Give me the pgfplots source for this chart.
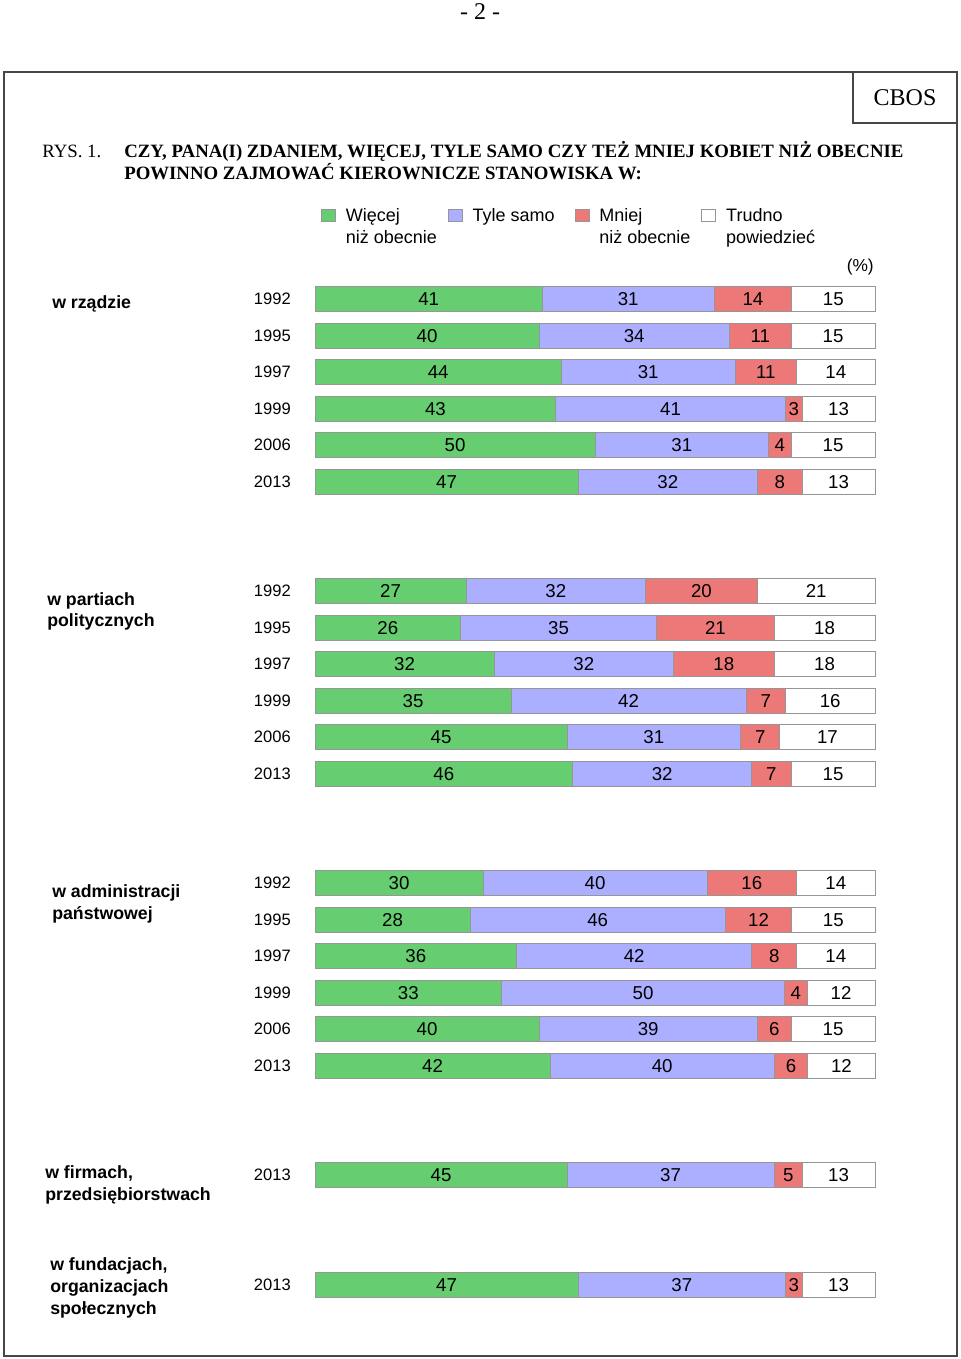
\documentclass[border=0pt]{standalone}
\usepackage{fontspec}
\setmainfont{Liberation Sans}
\newfontfamily\seriffont{Liberation Serif}
\usepackage{pgfplots}
\usepackage{pgfplotstable}
\pgfplotsset{compat=1.18}
\definecolor{cgreen}{RGB}{102,206,112}
\definecolor{cblue}{RGB}{172,174,255}
\definecolor{cred}{RGB}{236,120,120}
\definecolor{cborder}{RGB}{150,150,150}
\definecolor{cframe}{RGB}{70,70,70}

% a b c d: printed percentages; wa wb wc wd: drawn bar widths (bars scaled to 100)
\pgfplotstableread{
y a b c d wa wb wc wd
-299 41 31 14 15 40.59 30.69 13.86 14.85
-336 40 34 11 15 40 34 11 15
-372 44 31 11 14 44 31 11 14
-409 43 41 3 13 43 41 3 13
-445 50 31 4 15 50 31 4 15
-482 47 32 8 13 47 32 8 13
-591 27 32 20 21 27 32 20 21
-628 26 35 21 18 26 35 21 18
-664 32 32 18 18 32 32 18 18
-701 35 42 7 16 35 42 7 16
-737 45 31 7 17 45 31 7 17
-774 46 32 7 15 46 32 7 15
-883 30 40 16 14 30 40 16 14
-920 28 46 12 15 27.72 45.54 11.88 14.85
-956 36 42 8 14 36 42 8 14
-993 33 50 4 12 33.33 50.51 4.04 12.12
-1029 40 39 6 15 40 39 6 15
-1066 42 40 6 12 42 40 6 12
-1175 45 37 5 13 45 37 5 13
-1285 47 37 3 13 47 37 3 13
}\datatable

\newcommand\LE[2]{\vtop{\hbox to 76.5pt{#1\hfil}\hbox{#2}}}

\begin{document}
\begin{tikzpicture}
\begin{scope}[x=0.75pt,y=-0.75pt]
\path[use as bounding box] (0,0) rectangle (960,1359);
\draw[line width=1.4pt, cframe] (4,72) rectangle (957,1356);
\draw[line width=1.1pt, cframe] (853,72) -- (853,123) -- (957,123);
\node[font=\seriffont\fontsize{18}{20}\selectfont] at (905,98) {CBOS};
\node[anchor=base, font=\seriffont\fontsize{18}{20}\selectfont] at (480,20) {- 2 -};
\node[anchor=base west, inner sep=0pt, font=\seriffont\fontsize{14.1}{17}\selectfont] at (42,157) {RYS. 1.};
\node[anchor=base west, inner sep=0pt, font=\seriffont\bfseries\fontsize{14.1}{17}\selectfont] at (124,157) {CZY, PANA(I) ZDANIEM, WIĘCEJ, TYLE SAMO CZY TEŻ MNIEJ KOBIET NIŻ OBECNIE};
\node[anchor=base west, inner sep=0pt, font=\seriffont\bfseries\fontsize{14.1}{17}\selectfont] at (124,180) {POWINNO ZAJMOWAĆ KIEROWNICZE STANOWISKA W:};
\node[anchor=base east, inner sep=0pt, font=\fontsize{13}{15}\selectfont] at (874,271) {(\%)};
\begin{scope}[every node/.style={anchor=base west, inner sep=0pt, font=\bfseries\fontsize{13.3}{16}\selectfont}]
\node at (52,308) {w rządzie};
\node at (47,605) {w partiach};
\node at (47,626) {politycznych};
\node at (52,897) {w administracji};
\node at (52,919) {państwowej};
\node at (45,1178) {w firmach,};
\node at (45,1200) {przedsiębiorstwach};
\node at (50,1270) {w fundacjach,};
\node at (50,1292) {organizacjach};
\node at (50,1314) {społecznych};
\end{scope}
\end{scope}

\begin{axis}[
  at={(236.25pt,-142.5pt)}, anchor=north west,
  scale only axis, width=420pt, height=840pt,
  xmin=0, xmax=100, ymin=-1310, ymax=-190,
  clip=false,
  axis line style={draw=none}, tick style={draw=none},
  xtick=\empty,
  ytick={-299,-336,-372,-409,-445,-482,-591,-628,-664,-701,-737,-774,-883,-920,-956,-993,-1029,-1066,-1175,-1285},
  yticklabels={1992,1995,1997,1999,2006,2013,1992,1995,1997,1999,2006,2013,1992,1995,1997,1999,2006,2013,2013,2013},
  yticklabel style={anchor=east, inner sep=0pt, xshift=-18pt, font=\fontsize{12.4}{14}\selectfont},
  xbar stacked, bar width=25,
  /pgf/number format/assume math mode=true,
  point meta=explicit,
  nodes near coords,
  every node near coord/.append style={anchor=center, font=\fontsize{14}{15}\selectfont, text=black},
  legend columns=4,
  legend image code/.code={\draw[#1, line width=0.6pt] (0pt,0pt) rectangle (10.5pt,9pt);},
  legend style={at={(axis cs:1.07,-208)}, anchor=north west, draw=none, fill=none,
    inner sep=0pt, outer sep=0pt,
    font=\fontsize{13.5}{16.5}\selectfont,
    /tikz/every odd column/.append style={column sep=7.5pt},
    nodes={anchor=base west, inner sep=0pt}},
]
\addplot[fill=cgreen, draw=cborder, line width=0.6pt] table[x=wa, y=y, meta=a] {\datatable};
\addplot[fill=cblue, draw=cborder, line width=0.6pt] table[x=wb, y=y, meta=b] {\datatable};
\addplot[fill=cred, draw=cborder, line width=0.6pt] table[x=wc, y=y, meta=c] {\datatable};
\addplot[fill=white, draw=cborder, line width=0.6pt] table[x=wd, y=y, meta=d] {\datatable};
\addlegendentry{\LE{Więcej}{niż obecnie}}
\addlegendentry{\LE{Tyle samo}{}}
\addlegendentry{\LE{Mniej}{niż obecnie}}
\addlegendentry{\LE{Trudno}{powiedzieć}}
\end{axis}
\end{tikzpicture}
\end{document}
